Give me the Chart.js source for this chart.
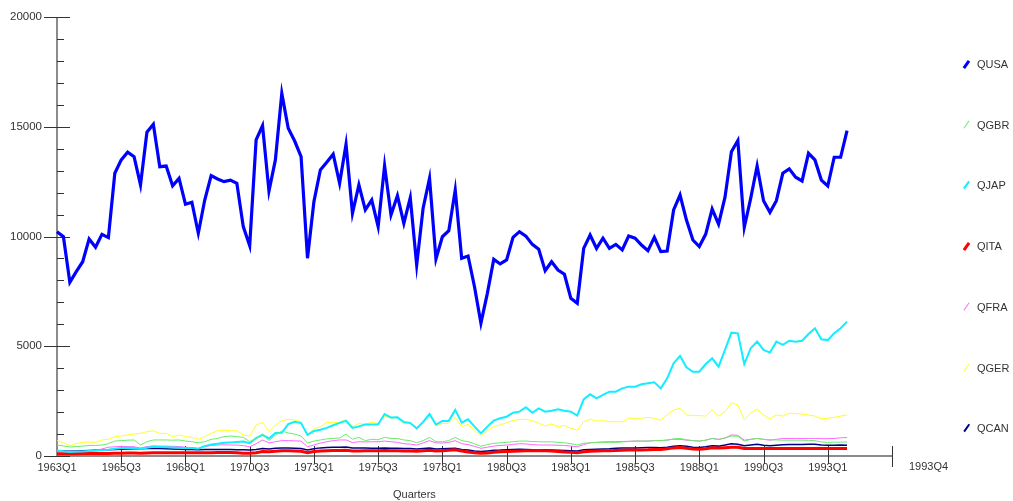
<!DOCTYPE html>
<html>
<head>
<meta charset="utf-8">
<script src="https://cdn.jsdelivr.net/npm/chart.js@4/dist/chart.umd.min.js"></script>
<style>
  body { margin: 0; background: #fff; }
  #wrap { position: relative; width: 1013px; height: 501px; font-family: "Liberation Sans", Arial, sans-serif; color: #333; }
  #wrap canvas { position: absolute; left: 0; top: 0; }
  .leg { position: absolute; left: 960px; font-size: 11px; height: 14px; line-height: 14px; }
  .leg span.mk { position: absolute; left: 2px; top: 6px; width: 9px; transform: rotate(-55deg); }
  .leg span.tx { position: absolute; left: 17px; top: 0; white-space: nowrap; }
  .note { position: absolute; font-size: 11px; white-space: nowrap; }
</style>
</head>
<body>
<div id="wrap">
  <canvas id="trendChart" width="1013" height="501"></canvas>
  <div id="legend"></div>
  <div class="note" style="left:393px; top:488px;">Quarters</div>
  <div class="note" style="left:909px; top:460px;">1993Q4</div>
</div>
<script>
// tick labels
const xTickLabels = ["1963Q1","1965Q3","1968Q1","1970Q3","1973Q1","1975Q3","1978Q1","1980Q3","1983Q1","1985Q3","1988Q1","1990Q3","1993Q1"];
const yTickLabels = ["0","5000","10000","15000","20000"];

// quarters 1963Q1 .. (axis runs a bit past the last data point)
const quarters = [];
for (let i = 0; i < 131; i++) quarters.push((1963 + Math.floor(i / 4)) + "Q" + (i % 4 + 1));

const QUSA = [10220,9990,7910,8400,8850,9890,9510,10100,9950,12880,
  13490,13840,13640,12350,14750,15110,13180,13210,12310,12650,
  11470,11560,10150,11660,12770,12620,12500,12570,12420,10450,
  9580,14400,15050,12070,13490,16520,14930,14350,13640,9010,
  11590,13030,13380,13750,12420,14200,11060,12350,11210,11660,
  10450,13230,10980,11860,10600,11770,8700,11290,12650,8980,
  9990,10260,12120,9010,9110,7710,6050,7410,8960,8750,
  8930,9960,10220,10020,9640,9420,8440,8850,8470,8280,
  7180,6960,9460,10070,9460,9920,9460,9640,9390,10020,
  9920,9610,9350,9960,9310,9340,11210,11890,10750,9840,
  9540,10110,11250,10560,11790,13860,14370,10420,11740,13210,
  11630,11100,11630,12880,13080,12700,12530,13790,13490,12570,
  12300,13610,13610,14820];

const QGBR = [500,460,410,430,450,480,480,500,560,680,
  700,720,730,500,650,730,730,730,720,730,
  680,650,600,650,760,800,880,910,880,850,
  650,800,1000,700,950,1140,1050,1000,910,590,
  680,730,780,800,820,1000,760,850,700,760,
  740,850,800,800,730,700,610,700,850,650,
  650,700,850,700,650,560,440,520,580,600,
  620,650,680,680,660,650,640,650,620,600,
  560,500,580,600,620,620,620,620,640,660,
  680,680,680,700,700,720,780,800,740,700,
  680,720,800,750,820,910,900,680,760,800,
  760,740,730,720,720,720,720,710,700,640,
  620,630,630,640];

const QJAP = [250,220,180,200,210,230,240,260,280,330,
  360,380,370,330,380,420,410,400,390,380,
  370,360,330,450,520,560,600,620,640,660,
  580,820,960,800,1050,1060,1450,1560,1500,960,
  1140,1200,1280,1400,1510,1600,1280,1350,1430,1440,
  1450,1910,1750,1760,1550,1500,1260,1550,1910,1430,
  1600,1600,2100,1520,1670,1340,1030,1340,1610,1720,
  1790,1970,2020,2220,1970,2170,2020,2060,2130,2060,
  2020,1840,2580,2810,2630,2780,2930,2930,3080,3160,
  3160,3270,3310,3360,3080,3540,4220,4560,4040,3840,
  3840,4190,4450,4070,4830,5620,5590,4190,4910,5210,
  4830,4710,5210,5060,5250,5210,5250,5560,5820,5320,
  5280,5590,5820,6120];

const QITA = [100,100,100,100,110,110,110,110,110,120,
  130,140,140,130,140,150,150,150,150,150,
  150,150,150,150,150,160,160,160,150,130,
  120,150,200,190,220,240,240,230,220,150,
  200,230,240,250,250,260,230,230,240,240,
  240,250,240,240,230,230,220,240,260,230,
  240,260,280,230,180,150,120,140,170,190,
  200,220,230,240,240,250,240,230,200,180,
  170,150,190,220,230,240,240,250,260,270,
  270,270,280,300,300,330,370,390,350,320,
  310,330,380,360,380,400,400,340,340,340,
  340,340,340,340,340,340,340,340,340,340,
  340,340,340,340];

const QFRA = [220,200,190,200,210,230,250,320,400,420,
  440,430,420,360,430,460,450,450,440,430,
  400,380,340,420,480,500,510,500,500,470,
  420,560,730,600,650,700,700,690,680,420,
  500,590,650,700,730,730,610,650,640,650,
  650,680,650,620,560,540,500,600,700,600,
  590,620,700,560,520,440,350,400,450,480,
  500,530,560,550,520,500,500,500,490,480,
  450,420,520,610,620,640,650,650,660,670,
  680,680,680,700,700,730,760,760,720,700,
  680,720,800,760,820,960,940,720,760,800,
  760,720,760,800,800,800,800,800,800,790,
  790,800,830,840];

const QGER = [700,610,470,560,620,640,620,730,760,880,
  910,960,1000,1030,1110,1150,1030,1030,880,960,
  880,850,760,880,1030,1150,1180,1150,1150,960,
  910,1410,1530,1110,1410,1610,1670,1640,1560,910,
  1260,1330,1530,1530,1530,1670,1330,1480,1450,1530,
  1480,1820,1720,1760,1480,1560,1210,1560,1870,1410,
  1480,1490,1760,1340,1440,1180,910,1150,1340,1410,
  1520,1610,1670,1670,1610,1490,1370,1460,1340,1390,
  1260,1180,1560,1670,1590,1610,1560,1560,1560,1720,
  1720,1720,1760,1720,1640,1870,2100,2170,1870,1840,
  1840,1820,2100,1820,2020,2430,2320,1640,1970,2130,
  1870,1690,1870,1820,1940,1940,1910,1870,1820,1690,
  1720,1760,1820,1870];

const QCAN = [240,230,220,230,240,250,260,270,290,300,
  310,320,330,330,340,350,340,330,320,310,
  300,300,290,300,300,300,300,300,290,280,
  270,300,340,320,350,370,360,350,340,270,
  330,370,390,400,400,410,370,360,360,350,
  350,370,350,350,340,340,320,340,360,320,
  330,340,350,300,270,230,200,230,260,270,
  290,300,310,300,290,290,280,270,260,250,
  240,230,280,300,310,320,330,350,360,370,
  370,380,390,390,380,400,440,470,440,400,
  390,420,470,450,500,560,540,470,500,530,
  490,470,490,510,520,520,520,530,540,500,
  490,490,500,490];

const series = [
  { label: "QUSA", data: QUSA, color: "#0000ff", width: 3.2 },
  { label: "QGBR", data: QGBR, color: "#66ee66", width: 1 },
  { label: "QJAP", data: QJAP, color: "#11eeff", width: 2 },
  { label: "QITA", data: QITA, color: "#ff0000", width: 3 },
  { label: "QFRA", data: QFRA, color: "#ff66ff", width: 1 },
  { label: "QGER", data: QGER, color: "#ffff22", width: 1 },
  { label: "QCAN", data: QCAN, color: "#000080", width: 1.5 }
];

// legend on the right
const legend = document.getElementById("legend");
series.forEach((s, i) => {
  const d = document.createElement("div");
  d.className = "leg";
  d.style.top = (57 + i * 60.7) + "px";
  d.innerHTML = '<span class="mk" style="height:' + Math.max(1, s.width) + 'px;background:' + s.color + '"></span><span class="tx">' + s.label + '</span>';
  legend.appendChild(d);
});

// axis lines and tick marks, drawn from the chart's scales
const axisPlugin = {
  id: "axisLines",
  beforeDatasetsDraw(chart) {
    const { ctx, scales: { x, y } } = chart;
    const x0 = x.getPixelForValue(0), x1 = x.getPixelForValue(130);
    const y0 = y.getPixelForValue(0), y1 = y.getPixelForValue(20000);
    ctx.save();
    ctx.strokeStyle = "#666";
    ctx.lineWidth = 1.5;
    ctx.beginPath();
    ctx.moveTo(x0, y1); ctx.lineTo(x0, y0);
    ctx.moveTo(x0, y0); ctx.lineTo(x1, y0);
    ctx.stroke();
    ctx.strokeStyle = "#333";
    ctx.lineWidth = 1;
    ctx.beginPath();
    for (let v = 0; v <= 20000; v += 1000) {
      const py = Math.round(y.getPixelForValue(v)) + 0.5;
      const major = v % 5000 === 0;
      ctx.moveTo(major ? x0 - 13 : x0, py);
      ctx.lineTo(x0 + (major ? 13 : 7), py);
    }
    for (let i = 10; i <= 130; i += 10) {
      const px = Math.round(x.getPixelForValue(i)) + 0.5;
      ctx.moveTo(px, y0 - 10);
      ctx.lineTo(px, y0 + (i === 130 ? 11 : 8));
    }
    ctx.stroke();
    ctx.restore();
  }
};

const ctx = document.getElementById("trendChart").getContext("2d");
new Chart(ctx, {
  type: "line",
  data: {
    labels: quarters,
    datasets: series.map(s => ({
      label: s.label,
      data: s.data,
      borderColor: s.color,
      backgroundColor: s.color,
      borderWidth: s.width,
      tension: 0,
      pointRadius: 0,
      fill: false
    }))
  },
  options: {
    responsive: false,
    animation: false,
    events: [],
    layout: { padding: { top: 17, right: 121, left: 0, bottom: 0 } },
    plugins: { legend: { display: false }, tooltip: { enabled: false } },
    scales: {
      x: {
        type: "category",
        offset: false,
        grid: { display: false, drawTicks: false },
        border: { display: false },
        ticks: {
          autoSkip: false,
          maxRotation: 0,
          padding: 5,
          color: "#333",
          font: { family: "Liberation Sans", size: 11 },
          callback: (val, idx) => (idx % 10 === 0 && idx / 10 < xTickLabels.length) ? xTickLabels[idx / 10] : ""
        },
        afterFit: s => { s.height = 45; }
      },
      y: {
        min: 0,
        max: 20000,
        // tick marks are drawn by the plugin; tickLength only sets the label gap
        grid: { display: false, drawTicks: true, tickLength: 15 },
        border: { display: false },
        ticks: {
          stepSize: 1000,
          padding: 0,
          color: "#333",
          font: { family: "Liberation Sans", size: 11.5 },
          callback: v => (v % 5000 === 0) ? yTickLabels[v / 5000] : ""
        },
        afterFit: s => { s.width = 57; }
      }
    }
  },
  plugins: [axisPlugin]
});
</script>
</body>
</html>
